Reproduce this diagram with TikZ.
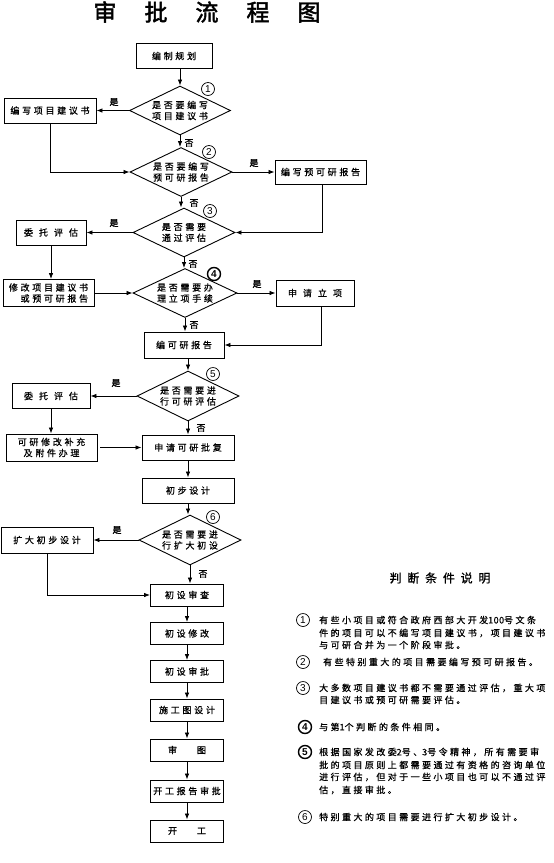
\documentclass[tikz,border=0pt]{standalone}
\usepackage{fontspec}
\setmainfont{Noto Sans CJK SC}[LetterSpace=30,FakeBold=0.7]
\newfontfamily\titlefont{Noto Sans CJK SC}[FakeBold=2]
\newfontfamily\legfont{Noto Sans CJK SC}[LetterSpace=27,FakeBold=0.7]
\newfontfamily\legtitlefont{Noto Sans CJK SC}[LetterSpace=48,FakeBold=0.7]
\newfontfamily\numfont{Liberation Sans}
\newcommand\tightdig[1]{{\addfontfeature{LetterSpace=5}#1}}
\usetikzlibrary{shapes.geometric,arrows.meta}
\tikzset{
 box/.style={draw, line width=0.9pt, inner sep=0pt, align=center, font=\fontsize{9}{11}\selectfont},
 dia/.style={draw, diamond, aspect=2, line width=0.9pt, inner sep=0pt, align=center, font=\fontsize{9}{11}\selectfont},
 arr/.style={line width=0.8pt, -{Latex[length=6pt,width=4.5pt]}},
 lbl/.style={inner sep=0pt, font=\fontsize{9}{11}\selectfont},
 num/.style={draw, circle, line width=0.7pt, minimum size=13pt, inner sep=0pt, font=\numfont\fontsize{10}{10}\selectfont},
 bnum/.style={num, line width=1.4pt, font=\numfont\bfseries\fontsize{10}{10}\selectfont},
 leg/.style={anchor=west, inner sep=0pt, font=\legfont\fontsize{9}{11}\selectfont},
}
\begin{document}
\begin{tikzpicture}[x=1pt,y=-1pt]
\useasboundingbox[fill=white] (0,0) rectangle (554,863);
% title
\node[inner sep=0pt, font=\titlefont\fontsize{23}{23}\selectfont] (title) at (207,12)
  {审\hspace{28pt}批\hspace{28pt}流\hspace{28pt}程\hspace{28pt}图};
% main flow
\node[box, minimum width=76, minimum height=25] (n0) at (174,56) {编制规划};
\node[dia, minimum width=101, minimum height=49] (d1) at (180,110.5) {是否要编写\\项目建议书};
\node[box, minimum width=92, minimum height=25] (b1) at (50,110.5) {编写项目建议书};
\node[dia, minimum width=102, minimum height=49] (d2) at (181,172) {是否要编写\\预可研报告};
\node[box, minimum width=91, minimum height=24] (b2) at (320.5,172) {编写预可研报告};
\node[dia, minimum width=102, minimum height=49] (d3) at (184,232.5) {是否需要\\通过评估};
\node[box, minimum width=70, minimum height=25] (b3) at (51,232.5) {委\hspace{6pt}托\hspace{6pt}评\hspace{6pt}估};
\node[box, minimum width=91, minimum height=27, align=right] (b4) at (48.5,293) {修改项目建议书\\或预可研报告};
\node[dia, minimum width=104, minimum height=49] (d4) at (185,293) {是否需要办\\理立项手续};
\node[box, minimum width=78, minimum height=26] (b5) at (315,293) {申\hspace{6pt}请\hspace{6pt}立\hspace{6pt}项};
\node[box, minimum width=80, minimum height=26] (b6) at (184,345) {编可研报告};
\node[dia, minimum width=102, minimum height=50] (d5) at (188,396) {是否需要进\\行可研评估};
\node[box, minimum width=78, minimum height=25] (b7) at (51,396) {委\hspace{6pt}托\hspace{6pt}评\hspace{6pt}估};
\node[box, minimum width=91, minimum height=27] (b8) at (51.5,447.5) {可研修改补充\\及附件办理};
\node[box, minimum width=92, minimum height=25] (b9) at (188,447.5) {申请可研批复};
\node[box, minimum width=92, minimum height=25] (b10) at (188,490.5) {初步设计};
\node[dia, minimum width=102, minimum height=50] (d6) at (190,540) {是否需要进\\行扩大初设};
\node[box, minimum width=92, minimum height=26] (b11) at (47,540) {扩大初步设计};
\node[box, minimum width=73, minimum height=22] (b12) at (187,595) {初设审查};
\node[box, minimum width=73, minimum height=22] (b13) at (187,633.5) {初设修改};
\node[box, minimum width=73, minimum height=22] (b14) at (187,671.5) {初设审批};
\node[box, minimum width=73, minimum height=22] (b15) at (187,710) {施工图设计};
\node[box, minimum width=73, minimum height=22] (b16) at (187,750) {审\hspace{20pt}图};
\node[box, minimum width=73, minimum height=22] (b17) at (187,791) {开工报告审批};
\node[box, minimum width=73, minimum height=22] (b18) at (187,831) {开\hspace{20pt}工};
% connectors
\draw[arr] (d1.north |- n0.south) -- (d1.north);
\draw[arr] (d1.west) -- (d1.west -| b1.east);
\draw[arr] (d1.south) -- (d1.south |- d2.north);
\draw[arr] (b1.south) |- (d2.west);
\draw[arr] (d2.east) -- (d2.east -| b2.west);
\draw[arr] (d2.south) -- (d2.south |- d3.north);
\draw[arr] ([xshift=1.5pt]b2.south) |- (d3.east);
\draw[arr] (d3.west) -- (d3.west -| b3.east);
\draw[arr] (d3.south) -- (d3.south |- d4.north);
\draw[arr] (b3.south) -- (b3.south |- b4.north);
\draw[arr] (b4.east) -- (b4.east -| d4.west);
\draw[arr] (d4.east) -- (d4.east -| b5.west);
\draw[arr] (d4.south) -- (d4.south |- b6.north);
\draw[arr] ([xshift=6pt]b5.south) |- (b6.east);
\draw[arr] (d5.north |- b6.south) -- (d5.north);
\draw[arr] (d5.west) -- (d5.west -| b7.east);
\draw[arr] (d5.south) -- (d5.south |- b9.north);
\draw[arr] (b7.south) -- (b7.south |- b8.north);
\draw[arr] ([xshift=3pt]b8.east) -- (b8.east -| b9.west);
\draw[arr] (b9.south) -- (b9.south |- b10.north);
\draw[arr] (b10.south) -- (b10.south |- d6.north);
\draw[arr] (d6.west) -- (d6.west -| b11.east);
\draw[arr] (b11.south) |- (b12.west);
\draw[arr] (d6.south) -- (d6.south |- b12.north);
\draw[arr] (b12) -- (b13);
\draw[arr] (b13) -- (b14);
\draw[arr] (b14) -- (b15);
\draw[arr] (b15) -- (b16);
\draw[arr] (b16) -- (b17);
\draw[arr] (b17) -- (b18);
% yes / no labels
\node[lbl] (y1) at (114,102) {是};
\node[lbl] (y2) at (254,163) {是};
\node[lbl] (y3) at (114,223) {是};
\node[lbl] (y4) at (257,284) {是};
\node[lbl] (y5) at (116,383) {是};
\node[lbl] (y6) at (117,530) {是};
\node[lbl] (no1) at (189,143) {否};
\node[lbl] (no2) at (194,203) {否};
\node[lbl] (no3) at (193,264) {否};
\node[lbl] (no4) at (194,325) {否};
\node[lbl] (no5) at (201,428) {否};
\node[lbl] (no6) at (203,574) {否};
% circled numbers
\node[num] (c1) at (208,89) {1};
\node[num] (c2) at (209,152) {2};
\node[num] (c3) at (210,211) {3};
\node[bnum] (c4) at (214,274) {4};
\node[num] (c5) at (213,374) {5};
\node[num] (c6) at (213,517) {6};
% legend
\node[inner sep=0pt, font=\legtitlefont\fontsize{12}{12}\selectfont] (lt) at (440,578) {判断条件说明};
\node[num] (lc1) at (303,620) {1};
\node[leg] (l1a) at (319,620) {有些小项目或符合政府西部大开发\tightdig{100}号文条};
\node[leg] (l1b) at (319,633) {件的项目可以不编写项目建议书，项目建议书};
\node[leg] (l1c) at (319,645) {与可研合并为一个阶段审批。};
\node[num] (lc2) at (303,662) {2};
\node[leg] (l2a) at (323,662) {有些特别重大的项目需要编写预可研报告。};
\node[num] (lc3) at (303,688) {3};
\node[leg] (l3a) at (319,688) {大多数项目建议书都不需要通过评估，重大项};
\node[leg] (l3b) at (319,700) {目建议书或预可研需要评估。};
\node[bnum] (lc4) at (305,727) {4};
\node[leg] (l4a) at (319,727) {与第\tightdig{1}个判断的条件相同。};
\node[bnum] (lc5) at (305,752) {5};
\node[leg] (l5a) at (319,752) {根据国家发改委\tightdig{2}号、\tightdig{3}号令精神，所有需要审};
\node[leg] (l5b) at (319,765) {批的项目原则上都需要通过有资格的咨询单位};
\node[leg] (l5c) at (319,777) {进行评估，但对于一些小项目也可以不通过评};
\node[leg] (l5d) at (319,790) {估，直接审批。};
\node[num] (lc6) at (305,817) {6};
\node[leg] (l6a) at (319,817) {特别重大的项目需要进行扩大初步设计。};
\end{tikzpicture}
\end{document}
